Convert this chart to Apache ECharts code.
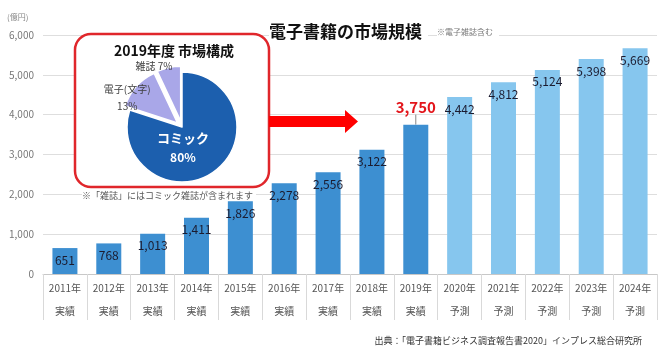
<!DOCTYPE html>
<html>
<head>
<meta charset="utf-8">
<script src="https://cdn.jsdelivr.net/npm/echarts@6/dist/echarts.min.js"></script>
<style>
  html, body { margin: 0; padding: 0; background: #fff; }
  #chart { width: 670px; height: 353px; }
</style>
</head>
<body>
<div id="chart"></div>
<script>
var years = ['2011年', '2012年', '2013年', '2014年', '2015年', '2016年', '2017年',
             '2018年', '2019年', '2020年', '2021年', '2022年', '2023年', '2024年'];
var kinds = ['実績', '実績', '実績', '実績', '実績', '実績', '実績',
             '実績', '実績', '予測', '予測', '予測', '予測', '予測'];
var marketSize = [651, 768, 1013, 1411, 1826, 2278, 2556, 3122, 3750, 4442, 4812, 5124, 5398, 5669];
var yTicks = [0, 1000, 2000, 3000, 4000, 5000, 6000];

var pieNames = ['コミック', '電子(文字)', '雑誌'];
var pieShares = [80, 13, 7];

var FONT = '"Noto Sans CJK JP", "Liberation Sans", sans-serif';
var highlightIndex = 8;

var barData = marketSize.map(function(v, i) {
  var item = {
    value: v,
    itemStyle: { color: kinds[i] === '実績' ? '#3d8fd1' : '#86c6ee' }
  };
  if (i === highlightIndex) {
    item.label = {
      position: 'top',
      distance: 2,
      color: '#e3161c',
      fontSize: 15,
      fontWeight: 'bold'
    };
  }
  return item;
});

var pieData = pieNames.map(function(n, i) {
  var item = { name: n, value: pieShares[i] };
  if (i === 0) {
    item.itemStyle = { color: '#1c5fae' };
    item.label = {
      position: 'inside',
      formatter: '{n|{b}}\n{p|{c}%}',
      rich: {
        n: { color: '#fff', fontSize: 13, fontWeight: 'bold', fontFamily: FONT, lineHeight: 20 },
        p: { color: '#fff', fontSize: 12, fontWeight: 'bold', fontFamily: FONT, lineHeight: 20 }
      }
    };
  } else {
    item.selected = true;
    item.itemStyle = { color: '#a9a7e8' };
    item.label = {
      position: 'outside',
      formatter: i === 1 ? '{b}\n{c}%' : '{b} {c}%',
      color: '#404040',
      fontSize: 10,
      lineHeight: 17,
      fontFamily: FONT
    };
  }
  return item;
});

// nudges for the pie labels
var pieLabelShift = { 0: [-17, -4], 1: [13, 19], 2: [1, 10] };

var chart = echarts.init(document.getElementById('chart'));
chart.setOption({
  animation: false,
  textStyle: { fontFamily: FONT },
  title: [
    { text: '電子書籍の市場規模', left: 269, top: 23, padding: [0, 6, 0, 0], backgroundColor: '#fff',
      textStyle: { fontSize: 17, fontWeight: 'bold', color: '#111', fontFamily: FONT } },
    { text: '※電子雑誌含む', left: 437, top: 28, padding: [0, 6, 0, 0], backgroundColor: '#fff',
      textStyle: { fontSize: 8, fontWeight: 'normal', color: '#777', fontFamily: FONT } },
    { text: '(億円)', left: 7, top: 13, padding: 0,
      textStyle: { fontSize: 8, fontWeight: 'normal', color: '#888', fontFamily: FONT } },
    { text: '出典：「電子書籍ビジネス調査報告書2020」インプレス総合研究所', right: 28, top: 336, padding: 0,
      textStyle: { fontSize: 9, fontWeight: 'normal', color: '#333', fontFamily: FONT } },
    { text: '2019年度 市場構成', left: 174, top: 44, textAlign: 'center', padding: 0,
      textStyle: { fontSize: 14, fontWeight: 'bold', color: '#111', fontFamily: FONT } },
    { text: '※「雑誌」にはコミック雑誌が含まれます', left: 82, top: 191, padding: [0, 3, 0, 0], backgroundColor: '#fff',
      textStyle: { fontSize: 9, fontWeight: 'normal', color: '#555', fontFamily: FONT } }
  ],
  grid: { left: 43, right: 13, top: 35, bottom: 79 },
  xAxis: {
    type: 'category',
    data: years,
    axisLine: { lineStyle: { color: '#c8c8c8' } },
    axisTick: { show: true, interval: 0, length: 46, lineStyle: { color: '#d9d9d9' } },
    axisLabel: {
      interval: 0,
      margin: 3,
      color: '#555',
      fontSize: 10,
      lineHeight: 23,
      formatter: function(v, i) { return v + '\n' + kinds[i]; }
    }
  },
  yAxis: {
    type: 'value',
    min: yTicks[0],
    max: yTicks[yTicks.length - 1],
    interval: 1000,
    axisLine: { show: false },
    axisTick: { show: false },
    splitLine: { lineStyle: { color: '#dedede' } },
    axisLabel: {
      margin: 9,
      color: '#777',
      fontSize: 10,
      formatter: function(v) { return v.toLocaleString('en-US'); }
    }
  },
  graphic: [
    {
      type: 'rect', z: 1,
      shape: { x: 75, y: 34, width: 194, height: 153, r: 16 },
      style: { fill: '#fff', stroke: '#e0262b', lineWidth: 2.5 }
    },
    {
      type: 'polygon', z: 1,
      shape: { points: [[269, 116], [345, 116], [345, 110], [358, 121.5], [345, 133], [345, 127], [269, 127]] },
      style: { fill: '#ff0000' }
    }
  ],
  series: [
    {
      type: 'bar',
      data: barData,
      barWidth: 25,
      z: 2,
      label: {
        show: true,
        position: 'insideTop',
        distance: 6,
        color: '#1b1b2f',
        fontSize: 12,
        formatter: function(p) { return p.value.toLocaleString('en-US'); }
      },
      labelLine: { show: true, lineStyle: { color: '#888', width: 1 } },
      labelLayout: function(p) {
        if (p.dataIndex === highlightIndex) return { dy: -8 };
      }
    },
    {
      type: 'pie',
      z: 3,
      center: [182, 127],
      radius: 55,
      startAngle: 90,
      selectedMode: 'multiple',
      selectedOffset: 6,
      avoidLabelOverlap: false,
      itemStyle: { borderColor: '#fff', borderWidth: 1.5 },
      labelLine: { show: false, length: 12, length2: 8 },
      labelLayout: function(p) {
        var s = pieLabelShift[p.dataIndex];
        var out = { dx: s[0], dy: s[1] };
        if (p.dataIndex > 0) out.align = 'center';
        return out;
      },
      data: pieData
    }
  ]
});
</script>
</body>
</html>
